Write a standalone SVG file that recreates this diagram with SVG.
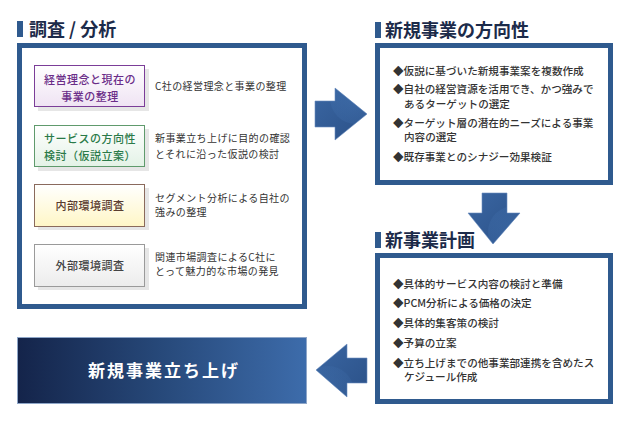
<svg xmlns="http://www.w3.org/2000/svg" width="634" height="427" viewBox="0 0 634 427">
<defs>
<style>
.ttl{font-family:"Noto Sans CJK JP","Noto Sans",sans-serif;font-size:18px;font-weight:700;fill:#1c2b4a}
.bar{fill:#2f5a8e}
.panel{fill:#fff;stroke:#2f5a8e;stroke-width:5}
.lbl{font-family:"Noto Sans CJK JP","Noto Sans",sans-serif;font-size:11px;font-weight:500;text-anchor:middle;letter-spacing:0.5px}
.desc{font-family:"Noto Sans CJK JP","Noto Sans",sans-serif;font-size:10px;fill:#333;letter-spacing:0.4px}
.bul{font-family:"Noto Sans CJK JP","Noto Sans",sans-serif;font-size:10.6px;font-weight:500;fill:#333}
.shadow{fill:#e6e6e6}
.arrow{fill:url(#ag);stroke:#6d8fbf;stroke-width:0.6}
</style>
<linearGradient id="gp" x1="0" y1="0" x2="0" y2="1"><stop offset="0" stop-color="#ffffff"/><stop offset="1" stop-color="#efe3f3"/></linearGradient>
<linearGradient id="gg" x1="0" y1="0" x2="0" y2="1"><stop offset="0" stop-color="#ffffff"/><stop offset="1" stop-color="#e3f2e6"/></linearGradient>
<linearGradient id="gy" x1="0" y1="0" x2="0" y2="1"><stop offset="0" stop-color="#ffffff"/><stop offset="1" stop-color="#fff6c6"/></linearGradient>
<linearGradient id="gw" x1="0" y1="0" x2="0" y2="1"><stop offset="0" stop-color="#ffffff"/><stop offset="1" stop-color="#ececec"/></linearGradient>
<linearGradient id="gb" x1="0" y1="0" x2="1" y2="0"><stop offset="0" stop-color="#14244a"/><stop offset="0.5" stop-color="#27497a"/><stop offset="1" stop-color="#3d6cab"/></linearGradient>
<linearGradient id="ag" x1="0" y1="0" x2="1" y2="1"><stop offset="0" stop-color="#3a66a2"/><stop offset="1" stop-color="#2b5188"/></linearGradient>
<radialGradient id="hl" cx="0.5" cy="0.5" r="0.5"><stop offset="0" stop-color="#4676b4"/><stop offset="1" stop-color="#4676b4" stop-opacity="0.5"/></radialGradient>
</defs>

<g id="title-analysis">
<rect class="bar" x="17" y="21" width="6" height="16"/>
<text class="ttl" x="29" y="36">調査 / 分析</text>
</g>
<g id="panel-analysis">
<rect class="panel" x="19.5" y="45.5" width="285" height="261"/>
</g>

<g id="node-philosophy">
<rect class="shadow" x="38" y="69" width="111" height="42"/>
<rect x="34.5" y="65.5" width="110" height="41" fill="url(#gp)" stroke="#7b3d98" stroke-width="1"/>
<text class="lbl" fill="#6a2c88" x="90" y="84">経営理念と現在の</text>
<text class="lbl" fill="#6a2c88" x="90" y="101">事業の整理</text>
<text class="desc" x="155" y="90">C社の経営理念と事業の整理</text>
</g>

<g id="node-service">
<rect class="shadow" x="38" y="129" width="111" height="42"/>
<rect x="34.5" y="125.5" width="110" height="41" fill="url(#gg)" stroke="#5f9a6c" stroke-width="1"/>
<text class="lbl" fill="#2a7a48" x="90" y="143">サービスの方向性</text>
<text class="lbl" fill="#2a7a48" x="90" y="160">検討（仮説立案）</text>
<text class="desc" x="155" y="142">新事業立ち上げに目的の確認</text>
<text class="desc" x="155" y="158">とそれに沿った仮説の検討</text>
</g>

<g id="node-internal">
<rect class="shadow" x="38" y="188" width="111" height="42"/>
<rect x="34.5" y="184.5" width="110" height="42" fill="url(#gy)" stroke="#8a6a5c" stroke-width="1"/>
<text class="lbl" fill="#5a3c30" x="90" y="210">内部環境調査</text>
<text class="desc" x="155" y="202">セグメント分析による自社の</text>
<text class="desc" x="155" y="216">強みの整理</text>
</g>

<g id="node-external">
<rect class="shadow" x="38" y="248" width="111" height="42"/>
<rect x="34.5" y="244.5" width="110" height="42" fill="url(#gw)" stroke="#9a9a9a" stroke-width="1"/>
<text class="lbl" fill="#444" x="90" y="270">外部環境調査</text>
<text class="desc" x="155" y="261">関連市場調査によるC社に</text>
<text class="desc" x="155" y="275">とって魅力的な市場の発見</text>
</g>

<g id="title-direction">
<rect class="bar" x="375" y="22" width="6" height="16"/>
<text class="ttl" x="385" y="37">新規事業の方向性</text>
</g>
<g id="panel-direction">
<rect class="panel" x="377.5" y="45.5" width="233" height="137"/>
<text class="bul" x="393" y="75">◆仮説に基づいた新規事業案を複数作成</text>
<text class="bul" x="393" y="93">◆自社の経営資源を活用でき、かつ強みで</text>
<text class="bul" x="404" y="108">あるターゲットの選定</text>
<text class="bul" x="393" y="127">◆ターゲット層の潜在的ニーズによる事業</text>
<text class="bul" x="404" y="141">内容の選定</text>
<text class="bul" x="393" y="161">◆既存事業とのシナジー効果検証</text>
</g>

<g id="title-plan">
<rect class="bar" x="375" y="232" width="6" height="16"/>
<text class="ttl" x="385" y="247">新事業計画</text>
</g>
<g id="panel-plan">
<rect class="panel" x="377.5" y="255.5" width="233" height="146"/>
<text class="bul" x="393" y="288">◆具体的サービス内容の検討と準備</text>
<text class="bul" x="393" y="307">◆PCM分析による価格の決定</text>
<text class="bul" x="393" y="327">◆具体的集客策の検討</text>
<text class="bul" x="393" y="347">◆予算の立案</text>
<text class="bul" x="393" y="367">◆立ち上げまでの他事業部連携を含めたス</text>
<text class="bul" x="404" y="381">ケジュール作成</text>
</g>

<g id="node-launch">
<rect x="17.5" y="337.5" width="289" height="66" fill="url(#gb)" stroke="#8ea6c8" stroke-width="1"/>
<text x="164" y="377" text-anchor="middle" font-family="'Noto Sans CJK JP','Noto Sans',sans-serif" font-size="17" font-weight="700" fill="#ffffff" letter-spacing="2">新規事業立ち上げ</text>
</g>

<g id="connectors">
<clipPath id="c1"><path d="M315,101 H335 V88 L367,114 L335,140 V127 H315 Z"/></clipPath>
<path class="arrow" d="M315,101 H335 V88 L367,114 L335,140 V127 H315 Z"/>
<circle cx="356" cy="98" r="26" fill="url(#hl)" clip-path="url(#c1)" opacity="0.45"/>
<clipPath id="c2"><path d="M482,193 H507 V213 H520 L493,244 L468,213 H482 Z"/></clipPath>
<path class="arrow" d="M482,193 H507 V213 H520 L493,244 L468,213 H482 Z"/>
<circle cx="514" cy="232" r="26" fill="url(#hl)" clip-path="url(#c2)" opacity="0.45"/>
<clipPath id="c3"><path d="M367,358 V383 H347 V397 L316,370 L347,344 V358 Z"/></clipPath>
<path class="arrow" d="M367,358 V383 H347 V397 L316,370 L347,344 V358 Z"/>
<circle cx="328" cy="392" r="26" fill="url(#hl)" clip-path="url(#c3)" opacity="0.35"/>
</g>
</svg>
